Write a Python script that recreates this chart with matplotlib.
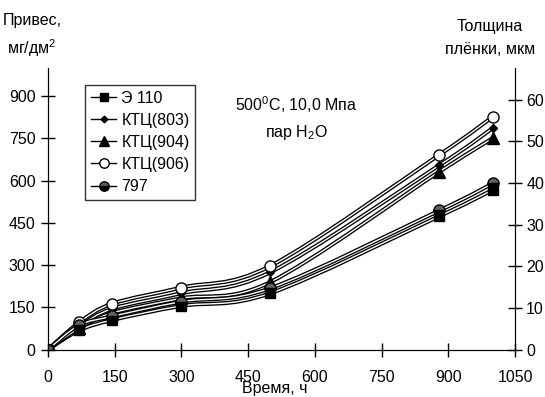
import numpy as np
import matplotlib.pyplot as plt
from matplotlib.path import Path
from matplotlib.patches import PathPatch
from matplotlib.lines import Line2D
import matplotlib.patheffects as pe

plt.rcParams['font.family'] = ['Liberation Sans', 'DejaVu Sans']
plt.rcParams['mathtext.fontset'] = 'custom'
plt.rcParams['mathtext.rm'] = 'Liberation Sans'

# время, ч
hours = [0, 70, 145, 300, 500, 880, 1000]

# привес, мг/дм2
e110 = [0, 68, 105, 155, 200, 474, 567]
ktc803 = [0, 82, 145, 200, 275, 655, 787]
ktc904 = [0, 76, 130, 182, 240, 632, 751]
ktc906 = [0, 96, 163, 220, 297, 692, 827]
s797 = [0, 86, 118, 170, 218, 494, 590]

names = ['Э 110', 'КТЦ(803)', 'КТЦ(904)', 'КТЦ(906)', '797']
series = [e110, ktc803, ktc904, ktc906, s797]
markers = [
    dict(marker='s', ms=7, mfc='black', mec='black'),
    dict(marker='D', ms=4, mfc='black', mec='black'),
    dict(marker='^', ms=8, mfc='black', mec='black'),
    dict(marker='o', ms=8, mfc='white', mec='black'),
    dict(marker='o', ms=8, mfc='black', mec='black', fillstyle='bottom',
         markerfacecoloralt='#606060'),
]


def smooth_path(x, y):
    # кривая Безье как в Excel (сглаженная линия)
    x = np.asarray(x, float)
    y = np.asarray(y, float)
    n = len(x)
    verts = [(x[0], y[0])]
    codes = [Path.MOVETO]
    for i in range(n - 1):
        i0 = max(i - 1, 0)
        i3 = min(i + 2, n - 1)
        c1 = (x[i] + (x[i + 1] - x[i0]) / 6, y[i] + (y[i + 1] - y[i0]) / 6)
        c2 = (x[i + 1] - (x[i3] - x[i]) / 6, y[i + 1] - (y[i3] - y[i]) / 6)
        verts += [c1, c2, (x[i + 1], y[i + 1])]
        codes += [Path.CURVE4] * 3
    return Path(verts, codes)


fig = plt.figure(figsize=(5.45, 3.97), dpi=100)
ax = fig.add_axes([0.088, 0.1196, 0.857, 0.709])

handles = []
for name, vals, mk in zip(names, series, markers):
    patch = PathPatch(smooth_path(hours, vals), facecolor='none', edgecolor='white',
                      lw=1.0, zorder=2,
                      path_effects=[pe.Stroke(linewidth=2.9, foreground='black'), pe.Normal()])
    ax.add_patch(patch)
    ax.plot(hours, vals, ls='none', zorder=3, **mk)
    handles.append(Line2D([], [], color='black', lw=1, **mk))

ax.set_xlim(0, 1050)
ax.set_ylim(0, 1000)
ax.set_xticks(range(0, 1051, 150))
ax.set_yticks(range(0, 901, 150))
ax.spines['top'].set_visible(False)
ax.tick_params(direction='inout', length=10, width=1, labelsize=11.5)
ax.tick_params(axis='y', pad=4)
ax.tick_params(axis='x', pad=10)

ax2 = ax.twinx()
ax2.set_ylim(0, 67.6)
ax2.set_yticks(range(0, 61, 10))
ax2.spines['top'].set_visible(False)
ax2.tick_params(direction='inout', length=10, width=1, labelsize=11.5, pad=3)

leg = ax.legend(handles, names, loc='upper left', bbox_to_anchor=(0.08, 0.94),
                borderaxespad=0, markerscale=0.85,
                fontsize=11.5, frameon=True, fancybox=False, handlelength=1.6,
                handletextpad=0.3, borderpad=0.35, labelspacing=0.45)
leg.get_frame().set_edgecolor('black')
leg.get_frame().set_linewidth(1)

fig.text(296 / 545, 1 - 105 / 397, '500$^0$C, 10,0 Мпа', ha='center', va='center', fontsize=11.5)
fig.text(296 / 545, 1 - 132 / 397, 'пар H$_2$O', ha='center', va='center', fontsize=11.5)
fig.text(32 / 545, 1 - 36 / 397, 'Привес,\nмг/дм$^2$', ha='center', va='center',
         fontsize=11.5, linespacing=1.6)
fig.text(490 / 545, 1 - 38 / 397, 'Толщина\nплёнки, мкм', ha='center', va='center',
         fontsize=11.5, linespacing=1.6)
fig.text(275 / 545, 1 - 389 / 397, 'Время, ч', ha='center', va='center', fontsize=11.5)

fig.savefig('out.png', dpi=100)
